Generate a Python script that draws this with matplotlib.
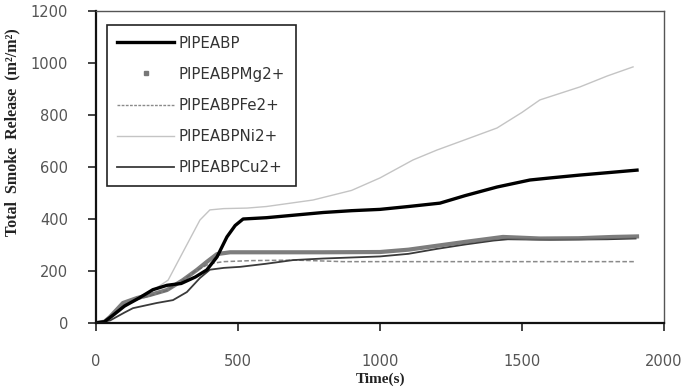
import matplotlib
matplotlib.use("Agg")
import matplotlib.pyplot as plt
from matplotlib.lines import Line2D

# data (time in s, total smoke release in m2/m2)
t_abp = [0, 30, 60, 100, 150, 200, 250, 300, 350, 390, 426, 461, 490, 518, 600, 700, 800, 900, 1000, 1100, 1211, 1300, 1412, 1528, 1600, 1704, 1800, 1905]
y_abp = [0, 5, 30, 65, 95, 128, 145, 152, 177, 204, 254, 331, 375, 400, 405, 415, 425, 432, 437, 448, 461, 490, 523, 550, 558, 569, 578, 588]

t_mg = [0, 30, 49, 95, 144, 190, 250, 306, 355, 390, 426, 472, 600, 800, 1000, 1100, 1200, 1300, 1433, 1563, 1700, 1820, 1905]
y_mg = [0, 5, 23, 77, 96, 108, 127, 165, 204, 235, 265, 272, 272, 272, 273, 282, 297, 312, 331, 325, 326, 331, 333]

t_fe = [0, 40, 100, 150, 200, 250, 300, 350, 400, 450, 550, 700, 870, 1100, 1400, 1700, 1900]
y_fe = [0, 10, 70, 92, 108, 125, 160, 200, 228, 236, 240, 242, 236, 236, 236, 236, 236]

t_ni = [0, 50, 100, 150, 200, 254, 300, 366, 401, 450, 532, 600, 764, 900, 1000, 1116, 1200, 1300, 1412, 1500, 1563, 1704, 1800, 1891]
y_ni = [0, 15, 60, 100, 125, 165, 260, 396, 435, 440, 442, 448, 473, 510, 558, 627, 665, 705, 750, 810, 858, 908, 950, 985]

t_cu = [0, 50, 100, 130, 214, 271, 320, 366, 401, 450, 508, 600, 694, 800, 900, 1000, 1100, 1200, 1300, 1400, 1450, 1600, 1800, 1900]
y_cu = [0, 10, 40, 57, 77, 88, 119, 173, 205, 212, 216, 228, 242, 248, 252, 256, 266, 285, 302, 317, 322, 320, 322, 325]

fig = plt.figure(figsize=(6.91, 3.87), dpi=100)
ax = fig.add_axes([96 / 691, 64 / 387, 568 / 691, 312 / 387])

ax.plot(t_ni, y_ni, color="#c4c4c4", lw=1.0)
ax.plot(t_fe, y_fe, color="#8a8a8a", lw=1.1, ls=(0, (3, 1.5)))
ax.plot(t_cu, y_cu, color="#3a3a3a", lw=1.3)
ax.plot(t_mg, y_mg, color="#666666", lw=3.0, alpha=0.85)
ax.plot(t_abp, y_abp, color="black", lw=2.4)

ax.set_xlim(0, 2000)
ax.set_ylim(0, 1200)
ax.set_xticks([0, 500, 1000, 1500, 2000])
ax.set_yticks(range(0, 1201, 200))
ax.tick_params(axis="both", direction="out", length=6, width=1.2, colors="#222222",
               labelcolor="#555555", labelsize=10.5)
ax.tick_params(axis="x", pad=16)
ax.tick_params(axis="y", pad=14)
for s in ["left", "bottom"]:
    ax.spines[s].set_linewidth(1.6)
    ax.spines[s].set_color("#111111")
for s in ["top", "right"]:
    ax.spines[s].set_linewidth(1.0)
    ax.spines[s].set_color("#555555")

handles = [
    Line2D([], [], color="black", lw=2.4),
    Line2D([], [], color="#777777", ls="none", marker="s", markersize=2.5),
    Line2D([], [], color="#8a8a8a", lw=1.0, ls=(0, (2, 1))),
    Line2D([], [], color="#c4c4c4", lw=1.0),
    Line2D([], [], color="#3a3a3a", lw=1.3),
]
labels = ["PIPEABP", "PIPEABPMg2+", "PIPEABPFe2+", "PIPEABPNi2+", "PIPEABPCu2+"]
leg = ax.legend(handles, labels, loc="upper left", bbox_to_anchor=(0.019, 0.955),
                fontsize=10.8, labelspacing=1.08, handlelength=3.8, handletextpad=0.3,
                borderpad=0.7, borderaxespad=0, fancybox=False, framealpha=1)
leg.get_frame().set_edgecolor("#222222")
leg.get_frame().set_linewidth(1.2)
for txt in leg.get_texts():
    txt.set_color("#333333")

fig.text(12 / 691, 1 - 132 / 387, "Total  Smoke  Release  (m²/m²)", rotation=90,
         ha="center", va="center", fontsize=11.5, fontweight="bold",
         family="Liberation Serif", color="#222222")
fig.text(380 / 691, 1 - 373 / 387, "Time(s)", ha="center", va="top",
         fontsize=11, fontweight="bold", family="Liberation Serif", color="#222222")

fig.savefig("out.png", dpi=100)
